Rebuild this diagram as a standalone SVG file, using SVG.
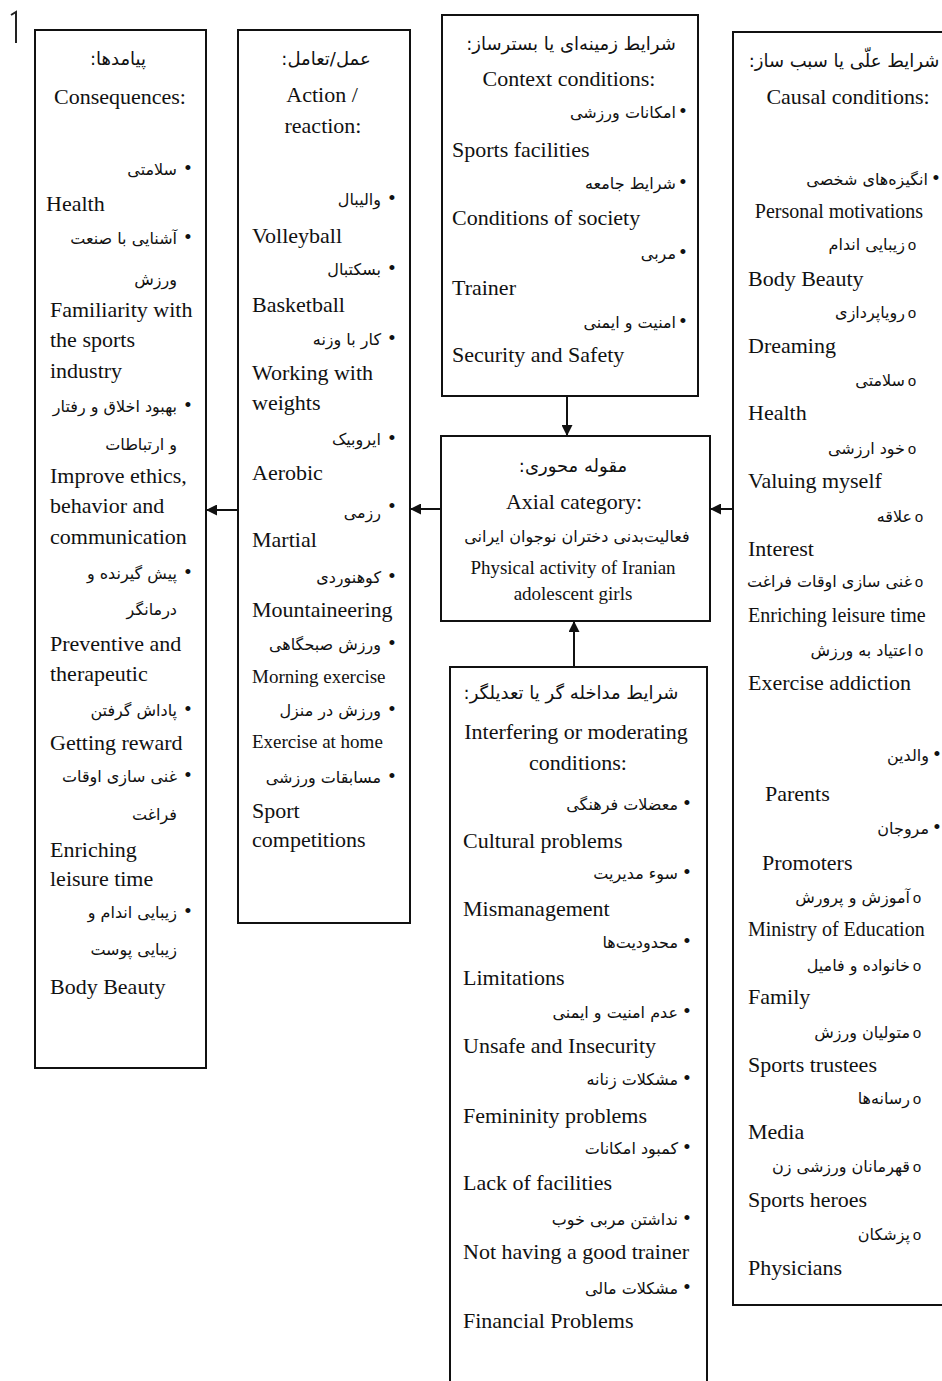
<svg xmlns="http://www.w3.org/2000/svg" width="942" height="1381" viewBox="0 0 942 1381">
<defs>
<marker id="ah" viewBox="0 0 10 10" refX="10" refY="5" markerWidth="11" markerHeight="11" markerUnits="userSpaceOnUse" orient="auto">
<path d="M0,0 L10,5 L0,10 z" fill="#111"/>
</marker>
<style>
.box{fill:#fff;stroke:#111;stroke-width:2}
.en{font-family:"Liberation Serif",serif;font-size:22px;fill:#111}
.sm{font-size:19px}
.md{font-size:20px}
.fa{font-family:"DejaVu Sans",sans-serif;font-size:16px;fill:#111;text-anchor:end}
.fat{font-family:"DejaVu Sans",sans-serif;font-size:18px;fill:#111;text-anchor:middle}
.fam{font-size:16px}
.b{font-family:"Liberation Serif",serif;font-size:21px;fill:#111;text-anchor:middle}
.o{font-family:"Liberation Mono",monospace;font-size:15px;fill:#111;text-anchor:middle}
.c{text-anchor:middle}
.conn{stroke:#111;stroke-width:2;fill:none}
</style>
</defs>
<rect width="942" height="1381" fill="#fff"/>
<path d="M11,15 L16,12 L16,43" stroke="#222" stroke-width="2" fill="none"/>

<g id="consequences">
<rect class="box" x="35" y="30" width="171" height="1038"/>
<text class="fat" x="118" y="65">پیامدها:&#x200F;</text>
<text class="en c" x="120" y="104">Consequences:</text>
<text class="b" x="188" y="175">•</text><text class="fa" x="177" y="175">سلامتی</text>
<text class="en" x="46" y="211">Health</text>
<text class="b" x="188" y="244">•</text><text class="fa" x="177" y="244">آشنایی با صنعت</text>
<text class="fa" x="177" y="285">ورزش</text>
<text class="en" x="50" y="317">Familiarity with</text>
<text class="en" x="50" y="347">the sports</text>
<text class="en" x="50" y="378">industry</text>
<text class="b" x="188" y="412">•</text><text class="fa" x="177" y="412">بهبود اخلاق و رفتار</text>
<text class="fa" x="177" y="450">و ارتباطات</text>
<text class="en" x="50" y="483">Improve ethics,</text>
<text class="en" x="50" y="513">behavior and</text>
<text class="en" x="50" y="544">communication</text>
<text class="b" x="188" y="579">•</text><text class="fa" x="177" y="579">پیش گیرنده و</text>
<text class="fa" x="177" y="615">درمانگر</text>
<text class="en" x="50" y="651">Preventive and</text>
<text class="en" x="50" y="681">therapeutic</text>
<text class="b" x="188" y="716">•</text><text class="fa" x="177" y="716">پاداش گرفتن</text>
<text class="en" x="50" y="750">Getting reward</text>
<text class="b" x="188" y="782">•</text><text class="fa" x="177" y="782">غنی سازی اوقات</text>
<text class="fa" x="177" y="820">فراغت</text>
<text class="en" x="50" y="857">Enriching</text>
<text class="en" x="50" y="886">leisure time</text>
<text class="b" x="188" y="918">•</text><text class="fa" x="177" y="918">زیبایی اندام و</text>
<text class="fa" x="177" y="955">زیبایی پوست</text>
<text class="en" x="50" y="994">Body Beauty</text>
</g>

<g id="action">
<rect class="box" x="238" y="30" width="172" height="893"/>
<text class="fat" x="326" y="65">عمل&#x200F;/&#x200F;تعامل:&#x200F;</text>
<text class="en c" x="322" y="102">Action /</text>
<text class="en c" x="323" y="133">reaction:</text>
<text class="b" x="392" y="205">•</text><text class="fa" x="381" y="205">والیبال</text>
<text class="en" x="252" y="243">Volleyball</text>
<text class="b" x="392" y="275">•</text><text class="fa" x="381" y="275">بسکتبال</text>
<text class="en" x="252" y="312">Basketball</text>
<text class="b" x="392" y="345">•</text><text class="fa" x="381" y="345">کار با وزنه</text>
<text class="en" x="252" y="380">Working with</text>
<text class="en" x="252" y="410">weights</text>
<text class="b" x="392" y="445">•</text><text class="fa" x="381" y="445">ایروبیک</text>
<text class="en" x="252" y="480">Aerobic</text>
<text class="b" x="392" y="513">•</text><text class="fa" x="381" y="518">رزمی</text>
<text class="en" x="252" y="547">Martial</text>
<text class="b" x="392" y="583">•</text><text class="fa" x="381" y="583">کوهنوردی</text>
<text class="en" x="252" y="617">Mountaineering</text>
<text class="b" x="392" y="650">•</text><text class="fa" x="381" y="650">ورزش صبحگاهی</text>
<text class="en sm" x="252" y="683">Morning exercise</text>
<text class="b" x="392" y="716">•</text><text class="fa" x="381" y="716">ورزش در منزل</text>
<text class="en sm" x="252" y="748">Exercise at home</text>
<text class="b" x="392" y="783">•</text><text class="fa" x="381" y="783">مسابقات ورزشی</text>
<text class="en" x="252" y="818">Sport</text>
<text class="en" x="252" y="847">competitions</text>
</g>

<g id="context">
<rect class="box" x="442" y="15" width="256" height="381"/>
<text class="fat" x="571" y="50">شرایط زمینه&#x200C;ای یا بسترساز:&#x200F;</text>
<text class="en c" x="569" y="86">Context conditions:</text>
<text class="b" x="683" y="118">•</text><text class="fa" x="676" y="118">امکانات ورزشی</text>
<text class="en" x="452" y="157">Sports facilities</text>
<text class="b" x="683" y="189">•</text><text class="fa" x="676" y="189">شرایط جامعه</text>
<text class="en" x="452" y="225">Conditions of society</text>
<text class="b" x="683" y="259">•</text><text class="fa" x="676" y="259">مربی</text>
<text class="en" x="452" y="295">Trainer</text>
<text class="b" x="683" y="328">•</text><text class="fa" x="676" y="328">امنیت و ایمنی</text>
<text class="en" x="452" y="362">Security and Safety</text>
</g>

<g id="axial">
<rect class="box" x="441" y="436" width="269" height="185"/>
<text class="fat" x="573" y="472">مقوله محوری:&#x200F;</text>
<text class="en c" x="574" y="509">Axial category:</text>
<text class="fat fam" x="577" y="542">فعالیت&#x200C;بدنی دختران نوجوان ایرانی</text>
<text class="en sm c" x="573" y="574">Physical activity of Iranian</text>
<text class="en sm c" x="573" y="600">adolescent girls</text>
</g>

<g id="interfering">
<rect class="box" x="450" y="667" width="257" height="740"/>
<text class="fat" x="571" y="699">شرایط مداخله گر یا تعدیلگر:&#x200F;</text>
<text class="en c" x="576" y="739">Interfering or moderating</text>
<text class="en c" x="578" y="770">conditions:</text>
<text class="b" x="687" y="810">•</text><text class="fa" x="678" y="810">معضلات فرهنگی</text>
<text class="en" x="463" y="848">Cultural problems</text>
<text class="b" x="687" y="879">•</text><text class="fa" x="678" y="879">سوء مدیریت</text>
<text class="en" x="463" y="916">Mismanagement</text>
<text class="b" x="687" y="948">•</text><text class="fa" x="678" y="948">محدودیت&#x200C;ها</text>
<text class="en" x="463" y="985">Limitations</text>
<text class="b" x="687" y="1018">•</text><text class="fa" x="678" y="1018">عدم امنیت و ایمنی</text>
<text class="en" x="463" y="1053">Unsafe and Insecurity</text>
<text class="b" x="687" y="1085">•</text><text class="fa" x="678" y="1085">مشکلات زنانه</text>
<text class="en" x="463" y="1123">Femininity problems</text>
<text class="b" x="687" y="1154">•</text><text class="fa" x="678" y="1154">کمبود امکانات</text>
<text class="en" x="463" y="1190">Lack of facilities</text>
<text class="b" x="687" y="1225">•</text><text class="fa" x="678" y="1225">نداشتن مربی خوب</text>
<text class="en" x="463" y="1259">Not having a good trainer</text>
<text class="b" x="687" y="1294">•</text><text class="fa" x="678" y="1294">مشکلات مالی</text>
<text class="en" x="463" y="1328">Financial Problems</text>
</g>

<g id="causal">
<rect class="box" x="733" y="32" width="220" height="1273"/>
<text class="fat" x="844" y="67">شرایط علّی یا سبب ساز:&#x200F;</text>
<text class="en c" x="848" y="104">Causal conditions:</text>
<text class="b" x="936" y="185">•</text><text class="fa" x="928" y="185">انگیزه&#x200C;های شخصی</text>
<text class="en md c" x="839" y="218">Personal motivations</text>
<text class="o" x="912" y="250">o</text><text class="fa" x="905" y="250">زیبایی اندام</text>
<text class="en" x="748" y="286">Body Beauty</text>
<text class="o" x="912" y="318">o</text><text class="fa" x="905" y="318">رویاپردازی</text>
<text class="en" x="748" y="353">Dreaming</text>
<text class="o" x="912" y="386">o</text><text class="fa" x="905" y="386">سلامتی</text>
<text class="en" x="748" y="420">Health</text>
<text class="o" x="912" y="454">o</text><text class="fa" x="905" y="454">خود ارزشی</text>
<text class="en" x="748" y="488">Valuing myself</text>
<text class="o" x="919" y="522">o</text><text class="fa" x="912" y="522">علاقه</text>
<text class="en" x="748" y="556">Interest</text>
<text class="o" x="919" y="587">o</text><text class="fa" x="912" y="587">غنی سازی اوقات فراغت</text>
<text class="en md" x="748" y="622">Enriching leisure time</text>
<text class="o" x="919" y="656">o</text><text class="fa" x="912" y="656">اعتیاد به ورزش</text>
<text class="en" x="748" y="690">Exercise addiction</text>
<text class="b" x="937" y="761">•</text><text class="fa" x="929" y="761">والدین</text>
<text class="en" x="765" y="801">Parents</text>
<text class="b" x="937" y="834">•</text><text class="fa" x="929" y="834">مروجان</text>
<text class="en" x="762" y="870">Promoters</text>
<text class="o" x="917" y="903">o</text><text class="fa" x="910" y="903">آموزش و پرورش</text>
<text class="en md" x="748" y="936">Ministry of Education</text>
<text class="o" x="917" y="971">o</text><text class="fa" x="910" y="971">خانواده و فامیل</text>
<text class="en" x="748" y="1004">Family</text>
<text class="o" x="917" y="1038">o</text><text class="fa" x="910" y="1038">متولیان ورزش</text>
<text class="en" x="748" y="1072">Sports trustees</text>
<text class="o" x="917" y="1104">o</text><text class="fa" x="910" y="1104">رسانه&#x200C;ها</text>
<text class="en" x="748" y="1139">Media</text>
<text class="o" x="917" y="1172">o</text><text class="fa" x="910" y="1172">قهرمانان ورزشی زن</text>
<text class="en" x="748" y="1207">Sports heroes</text>
<text class="o" x="917" y="1240">o</text><text class="fa" x="910" y="1240">پزشکان</text>
<text class="en" x="748" y="1275">Physicians</text>
</g>

<g id="connectors">
<line class="conn" x1="567" y1="396" x2="567" y2="436" marker-end="url(#ah)"/>
<line class="conn" x1="574" y1="667" x2="574" y2="621" marker-end="url(#ah)"/>
<line class="conn" x1="733" y1="509" x2="710" y2="509" marker-end="url(#ah)"/>
<line class="conn" x1="441" y1="509" x2="410" y2="509" marker-end="url(#ah)"/>
<line class="conn" x1="238" y1="510" x2="206" y2="510" marker-end="url(#ah)"/>
</g>
</svg>
